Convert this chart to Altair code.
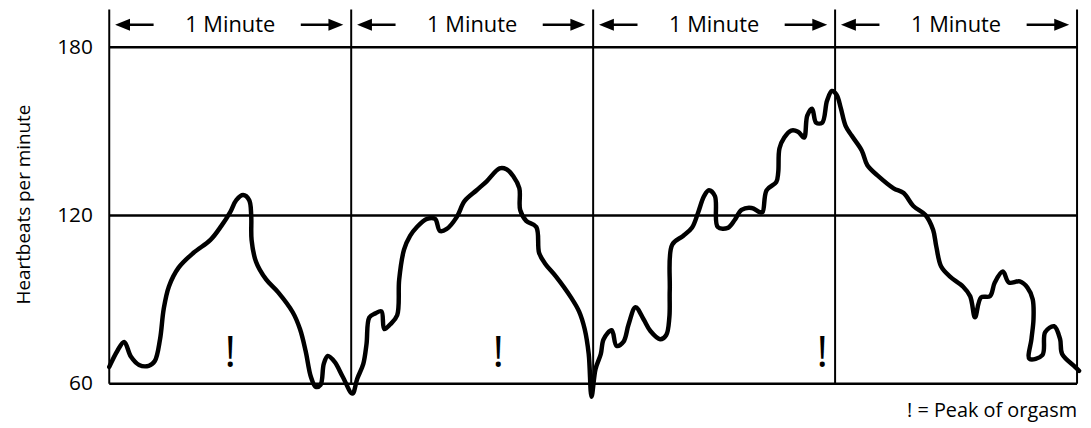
import altair as alt
import pandas as pd

# ---- data ----
time_s = [0, 2.0, 3.7, 5.4, 7.4, 9.8, 11.3, 12.6, 13.5, 14.8,
          17.2, 20.9, 25.1, 27.8, 30.0, 31.5, 33.2, 34.7, 35.2, 35.3,
          36.4, 38.9, 41.9, 45.5, 47.3, 48.7, 50.0, 51.2, 52.4, 53.2,
          54.2, 55.9, 57.9, 60.3, 61.5, 63.0, 63.8, 64.5, 66.0, 67.5,
          68.2, 69.7, 71.4, 71.9, 73.1, 74.6, 76.3, 78.8, 80.8, 82.0,
          83.7, 86.2, 88.1, 91.1, 93.6, 96.8, 98.5, 100.2, 101.7, 101.9,
          103.4, 105.9, 106.6, 108.1, 110.8, 114.5, 116.5, 117.9, 118.9, 119.6,
          120.6, 121.9, 122.6, 124.6, 125.8, 127.5, 128.8, 130.5, 132.5, 134.2,
          136.6, 138.1, 138.9, 139.0, 139.6, 142.3, 144.5, 146.0, 147.5, 148.7,
          150.2, 150.9, 153.4, 155.1, 156.8, 159.3, 161.3, 162.0, 163.0, 165.4,
          165.9, 166.2, 167.4, 169.1, 170.8, 172.3, 173.1, 174.3, 175.3, 176.8,
          178.0, 179.2, 180.4, 181.4, 182.6, 184.1, 186.6, 188.0, 190.5, 194.5,
          197.0, 199.4, 202.4, 204.3, 205.1, 206.3, 208.5, 211.7, 213.5, 214.7,
          216.2, 218.4, 219.6, 221.6, 223.1, 225.8, 227.7, 229.0, 229.2, 228.7,
          228.2, 231.4, 232.1, 234.3, 235.8, 236.3, 239.5, 240.5]
bpm = [66.0, 71.7, 74.9, 69.6, 66.7, 66.4, 68.1, 75.9, 86.6, 94.7,
       101.4, 106.7, 111.3, 116.3, 121.2, 125.5, 127.3, 125.5, 120.2, 111.3,
       103.5, 97.2, 92.6, 85.5, 79.5, 71.7, 62.5, 58.9, 59.6, 67.1,
       69.9, 67.8, 62.5, 56.5, 61.8, 67.1, 74.2, 83.7, 85.1, 85.8,
       79.5, 81.2, 84.4, 97.2, 107.8, 112.7, 115.9, 118.8, 118.8, 114.5,
       115.2, 119.5, 125.1, 129.0, 132.2, 136.8, 136.5, 134.0, 129.7, 122.0,
       118.1, 115.9, 106.7, 102.8, 98.2, 90.8, 85.8, 79.5, 70.6, 55.4,
       65.3, 70.6, 75.9, 79.1, 73.5, 74.9, 81.2, 87.3, 83.0, 78.8,
       75.9, 77.3, 83.7, 93.6, 109.6, 112.7, 115.6, 120.9, 126.9, 129.0,
       126.9, 115.9, 115.6, 118.4, 122.0, 122.7, 121.2, 121.2, 129.0, 131.9,
       135.4, 143.9, 147.8, 150.3, 149.9, 147.8, 155.6, 158.1, 153.1, 153.1,
       160.9, 164.4, 163.0, 158.4, 152.0, 148.5, 143.2, 137.9, 134.3, 129.7,
       128.0, 123.4, 120.2, 114.9, 108.9, 101.8, 98.2, 94.7, 91.2, 83.7,
       90.8, 91.2, 96.1, 100.0, 96.1, 96.5, 94.3, 90.1, 83.0, 76.0,
       68.9, 70.2, 78.4, 80.5, 75.9, 70.6, 66.0, 64.6]

minute_edges = [0, 60, 120, 180, 240]
grid_bpm = [60, 120, 180]
peak_times = [30.0, 96.5, 176.8]
minute_label = "1 Minute"
y_title = "Heartbeats per minute"
legend_text = "! = Peak of orgasm"

# ---- layout constants ----
FONT = "Open Sans"
Y_MIN, Y_TOP = 60, 193.45
HEADER_Y = 185.3
ARROW_Y = 188.0
PEAK_MARK_Y = 66.0
LEGEND_Y = 48.3

xs = alt.Scale(domain=[0, 240], nice=False, zero=False)
ys = alt.Scale(domain=[Y_MIN, Y_TOP], nice=False, zero=False)

y_axis = alt.Axis(values=grid_bpm, title=y_title, domain=False, ticks=False, grid=False,
                  labelFont=FONT, labelFontSize=21, labelColor="black", labelPadding=17,
                  titleFont=FONT, titleFontSize=19, titleFontWeight="normal", titleColor="black",
                  titleAngle=270, titleX=-86, titleY=196, titleBaseline="middle", titleAlign="center")


def X(field):
    return alt.X(field, scale=xs, axis=None)


def Y(field):
    return alt.Y(field, scale=ys, axis=y_axis)


curve = pd.DataFrame({"t": time_s, "bpm": bpm, "order": list(range(len(time_s)))})

hrules = pd.DataFrame({"t0": 0, "t1": 240, "y": grid_bpm})
vrules = pd.DataFrame({"t": minute_edges, "y": Y_MIN, "y2": Y_TOP})

starts = minute_edges[:-1]
ends = minute_edges[1:]
labels = pd.DataFrame({"t": [(a + b) / 2 for a, b in zip(starts, ends)],
                       "y": HEADER_Y, "txt": minute_label})
shafts = pd.DataFrame({
    "t0": [a + 3.0 for a in starts] + [b - 12.5 for b in ends],
    "t1": [a + 11.0 for a in starts] + [b - 3.5 for b in ends],
    "y": ARROW_Y})
heads_l = pd.DataFrame({"t": [a + 3.3 for a in starts], "y": ARROW_Y})
heads_r = pd.DataFrame({"t": [b - 3.8 for b in ends], "y": ARROW_Y})
peaks = pd.DataFrame({"t": peak_times, "y": PEAK_MARK_Y, "txt": "!"})
legend = pd.DataFrame({"t": [240], "y": [LEGEND_Y], "txt": [legend_text]})

h_layer = alt.Chart(hrules).mark_rule(color="black", strokeWidth=2.5).encode(
    x=X("t0:Q"), x2="t1:Q", y=Y("y:Q"))

v_layer = alt.Chart(vrules).mark_rule(color="black", strokeWidth=2).encode(
    x=X("t:Q"), y=Y("y:Q"), y2="y2:Q")

line = alt.Chart(curve).mark_line(color="black", strokeWidth=4.5, interpolate="catmull-rom",
                                  strokeJoin="round", strokeCap="round", clip=False).encode(
    x=X("t:Q"), y=Y("bpm:Q"), order="order:Q")

label_layer = alt.Chart(labels).mark_text(font=FONT, fontSize=22, color="black",
                                          baseline="alphabetic", align="center").encode(
    x=X("t:Q"), y=Y("y:Q"), text="txt:N")

shaft_layer = alt.Chart(shafts).mark_rule(color="black", strokeWidth=2.5).encode(
    x=X("t0:Q"), x2="t1:Q", y=Y("y:Q"))

head_l_layer = alt.Chart(heads_l).mark_point(shape="M -1 0 L 1 -0.8 L 1 0.8 Z", size=225,
                                             filled=True, color="black", opacity=1).encode(
    x=X("t:Q"), y=Y("y:Q"))
head_r_layer = alt.Chart(heads_r).mark_point(shape="M 1 0 L -1 -0.8 L -1 0.8 Z", size=225,
                                             filled=True, color="black", opacity=1).encode(
    x=X("t:Q"), y=Y("y:Q"))

peak_layer = alt.Chart(peaks).mark_text(font=FONT, fontSize=44, color="black",
                                        baseline="alphabetic", align="center").encode(
    x=X("t:Q"), y=Y("y:Q"), text="txt:N")

legend_layer = alt.Chart(legend).mark_text(font=FONT, fontSize=20, color="black",
                                           baseline="alphabetic", align="right").encode(
    x=X("t:Q"), y=Y("y:Q"), text="txt:N")

chart = alt.layer(h_layer, v_layer, line, label_layer, shaft_layer, head_l_layer,
                  head_r_layer, peak_layer, legend_layer).properties(
    width=975, height=377,
    autosize=alt.AutoSizeParams(type="none"),
    padding={"left": 102, "top": 0, "right": 6, "bottom": 40},
    background="white",
).configure_view(stroke=None)

chart.save("out.html", embed_options={"renderer": "svg", "actions": False})
